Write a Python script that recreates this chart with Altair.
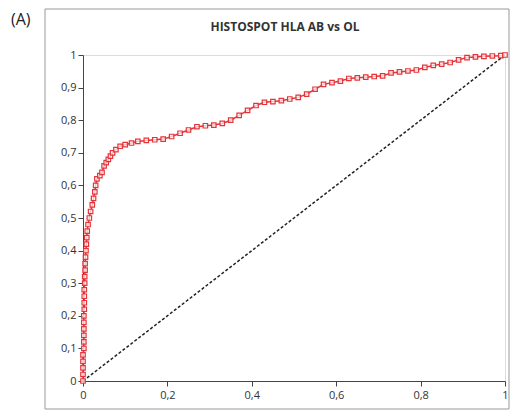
import altair as alt
import pandas as pd

fpr = [0, 0, 0, 0, 0, 0.002, 0.002, 0.002, 0.002, 0.002, 0.002, 0.003, 0.003, 0.003, 0.003,
       0.004, 0.004, 0.005, 0.005, 0.006, 0.007, 0.008, 0.009, 0.010, 0.012, 0.015, 0.018,
       0.022, 0.025, 0.028, 0.030, 0.033, 0.040, 0.045, 0.050, 0.055, 0.060, 0.065, 0.070,
       0.078, 0.088, 0.10, 0.115, 0.13, 0.15, 0.17, 0.19, 0.21, 0.23, 0.25, 0.27, 0.29, 0.31,
       0.33, 0.35, 0.37, 0.39, 0.41, 0.43, 0.45, 0.47, 0.49, 0.51, 0.53, 0.55, 0.57, 0.59,
       0.61, 0.63, 0.65, 0.67, 0.69, 0.71, 0.73, 0.75, 0.77, 0.79, 0.81, 0.83, 0.85, 0.87,
       0.89, 0.91, 0.93, 0.95, 0.97, 0.99, 1.0]
tpr = [0, 0.02, 0.04, 0.06, 0.08, 0.10, 0.12, 0.14, 0.16, 0.18, 0.20, 0.22, 0.24, 0.26, 0.28,
       0.30, 0.32, 0.34, 0.36, 0.38, 0.40, 0.42, 0.44, 0.46, 0.48, 0.50, 0.52,
       0.54, 0.56, 0.58, 0.60, 0.62, 0.63, 0.64, 0.66, 0.67, 0.68, 0.69, 0.70,
       0.71, 0.72, 0.725, 0.73, 0.735, 0.738, 0.74, 0.742, 0.75, 0.76, 0.77, 0.78, 0.783, 0.785,
       0.79, 0.80, 0.815, 0.83, 0.845, 0.855, 0.857, 0.86, 0.865, 0.87, 0.88, 0.895, 0.91, 0.915,
       0.92, 0.928, 0.93, 0.932, 0.934, 0.936, 0.945, 0.948, 0.951, 0.954, 0.962, 0.968, 0.972, 0.977,
       0.985, 0.992, 0.994, 0.996, 0.997, 0.998, 1.0]
diag = [0, 1]
x_ticks = [0, 0.2, 0.4, 0.6, 0.8, 1]
y_ticks = [0, 0.1, 0.2, 0.3, 0.4, 0.5, 0.6, 0.7, 0.8, 0.9, 1]
title_text = "HISTOSPOT HLA AB vs OL"
panel_label = "(A)"

roc = pd.DataFrame({"fpr": fpr, "tpr": tpr, "order": list(range(len(fpr)))})
ref = pd.DataFrame({"fpr": diag, "tpr": diag})

lab = "replace(format(datum.value, '~g'), '.', ',')"
xs = alt.X("fpr:Q", scale=alt.Scale(domain=[0, 1], nice=False),
           axis=alt.Axis(values=x_ticks, labelExpr=lab, title=None, grid=False,
                         labelOverlap=False, labelFlush=False,
                         tickSize=5, labelPadding=3, domainColor="#444", tickColor="#444",
                         labelColor="#333", labelFontSize=11, labelFont="Open Sans"))
ys = alt.Y("tpr:Q", scale=alt.Scale(domain=[0, 1], nice=False),
           axis=alt.Axis(values=y_ticks, labelExpr=lab, title=None, grid=False,
                         labelOverlap=False, labelFlush=False,
                         tickSize=5, labelPadding=2, domainColor="#444", tickColor="#444",
                         labelColor="#333", labelFontSize=11, labelFont="Open Sans"))

diag_line = alt.Chart(ref).mark_line(color="#222", strokeDash=[3, 2], strokeWidth=1.5).encode(
    x=xs, y=ys)

roc_line = alt.Chart(roc).mark_line(
    color="#e3343a", strokeWidth=1.5,
    point=alt.OverlayMarkDef(shape="square", filled=False, size=20, color="#e3343a",
                             strokeWidth=1.2, fill="white", fillOpacity=0.7)
).encode(x=xs, y=ys, order="order:Q")

box = alt.Chart(pd.DataFrame({"a": [0]})).mark_rect(
    fill=None, stroke="#999", strokeWidth=1).encode(
    x=alt.value(-38), x2=alt.value(426), y=alt.value(-46), y2=alt.value(354))

title = alt.Chart(pd.DataFrame({"t": [title_text]})).mark_text(
    font="Open Sans", fontSize=12, fontWeight="bold", color="#333", align="center",
    baseline="middle").encode(text="t:N", x=alt.value(202), y=alt.value(-28))

plabel = alt.Chart(pd.DataFrame({"t": [panel_label]})).mark_text(
    font="Open Sans", fontSize=16, color="#222", align="left",
    baseline="middle").encode(text="t:N", x=alt.value(-72), y=alt.value(-35))

chart = alt.layer(box, diag_line, roc_line, title, plabel).properties(
    width=422, height=326,
    autosize=alt.AutoSizeParams(type="none"),
    padding={"left": 75, "top": 47, "right": 5, "bottom": 29},
).configure_view(stroke="#888", strokeWidth=1).configure(background="white")

chart.save("out.html", embed_options={"renderer": "svg", "actions": False})
